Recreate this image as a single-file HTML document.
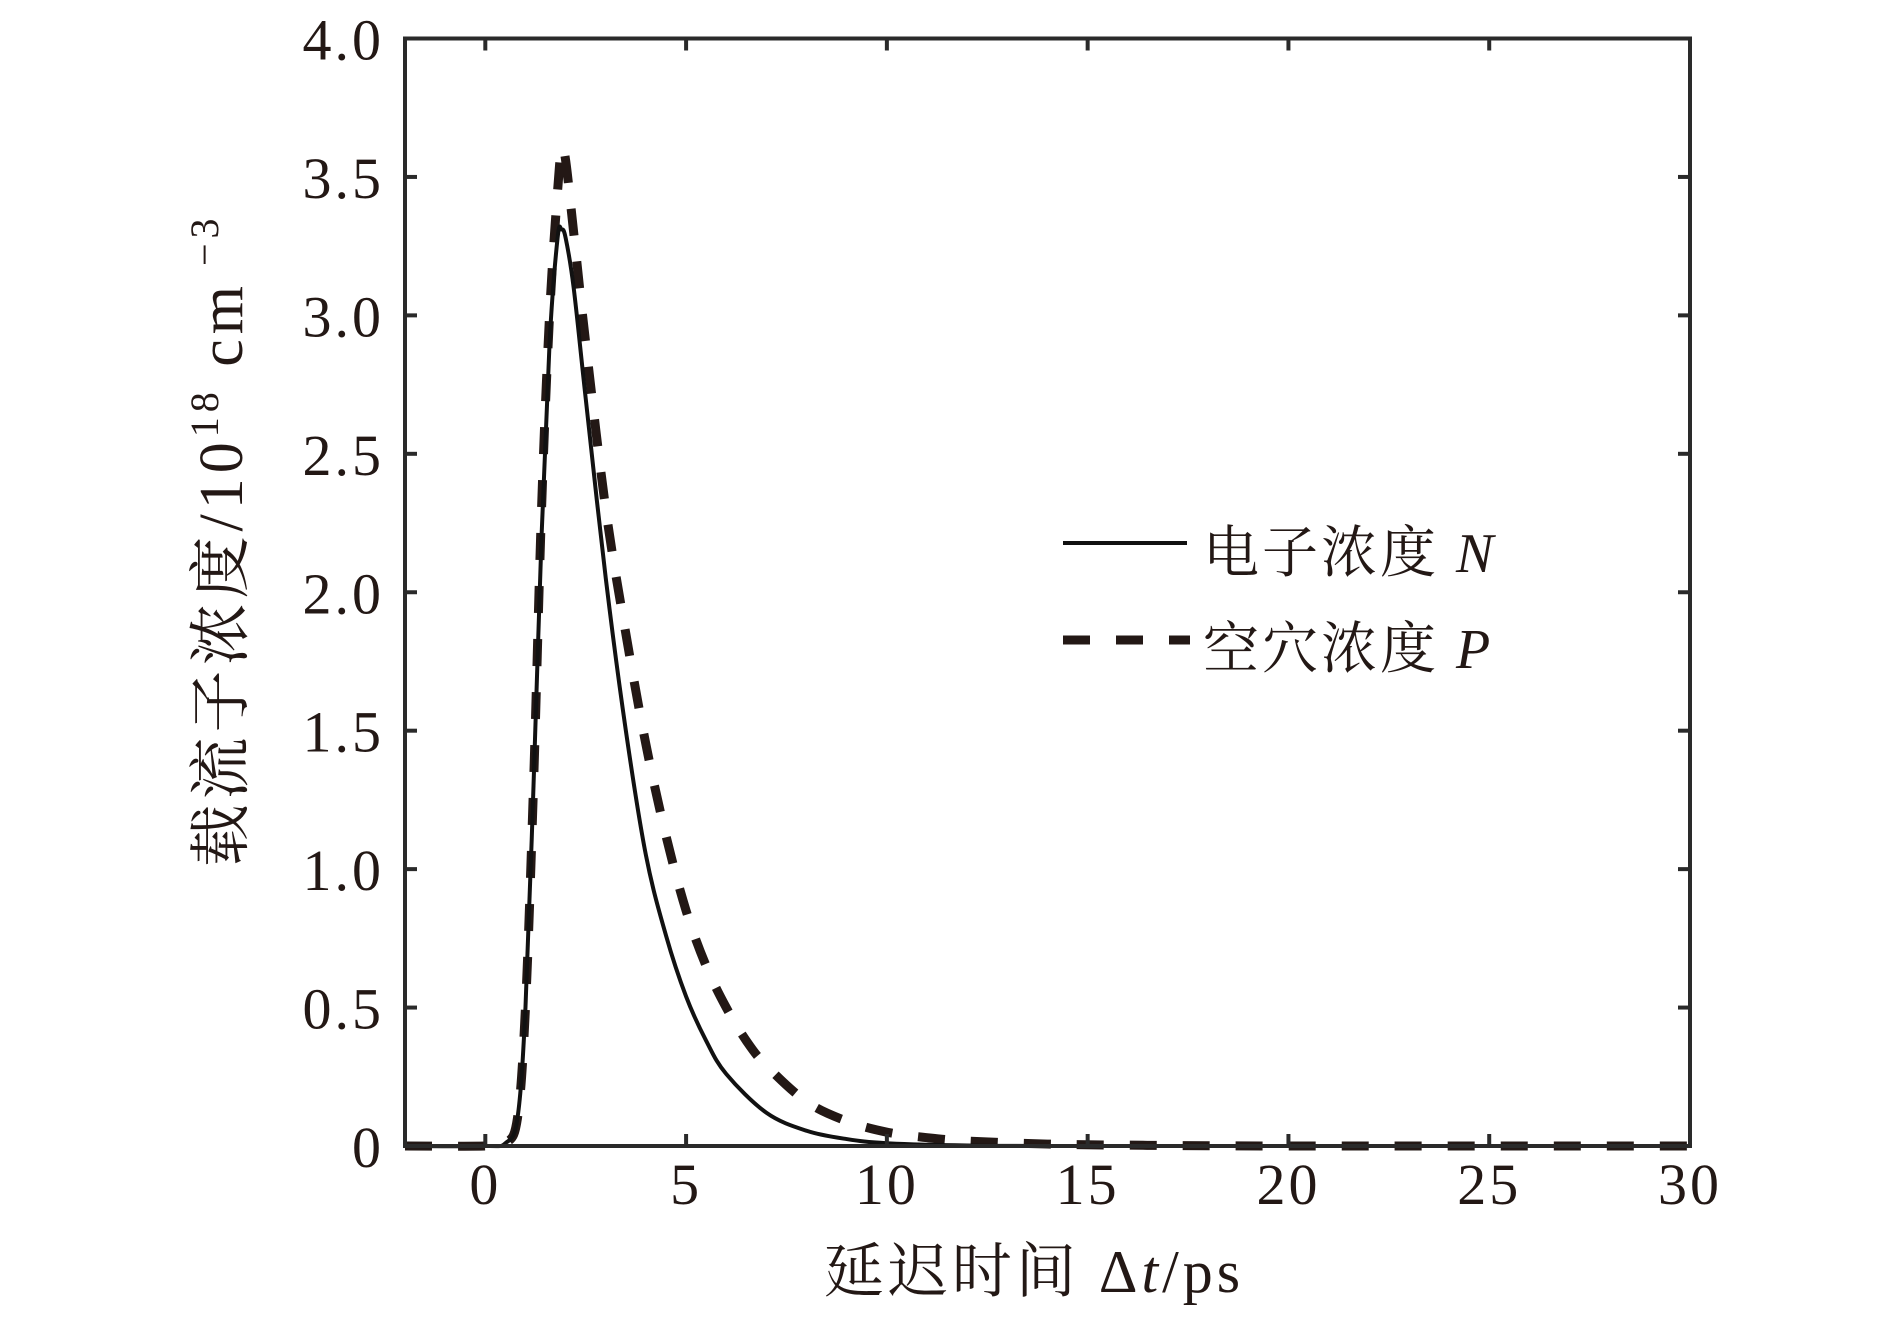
<!DOCTYPE html>
<html><head><meta charset="utf-8"><style>
html,body{margin:0;padding:0;background:#fff;}
svg{display:block;}
text{font-family:"Liberation Serif","Noto Serif CJK SC",serif;fill:#231815;}
</style></head><body>
<svg width="1890" height="1323" viewBox="0 0 1890 1323">
<g id="plot"></g>
<g id="axes"></g>
<g>
<line x1="1063" y1="543" x2="1187" y2="543" stroke="#111" stroke-width="4"/>
<text x="1203" y="572" font-size="56" letter-spacing="3">电子浓度 <tspan font-style="italic">N</tspan></text>
<line x1="1063" y1="640" x2="1190" y2="640" stroke="#231815" stroke-width="9" stroke-dasharray="27,26"/>
<text x="1203" y="668" font-size="56" letter-spacing="3">空穴浓度 <tspan font-style="italic">P</tspan></text>
</g>
<text x="1034" y="1292" font-size="60" letter-spacing="4" text-anchor="middle">延迟时间 Δ<tspan font-style="italic">t</tspan>/ps</text>
<text transform="translate(242,540) rotate(-90)" font-size="62" letter-spacing="5" text-anchor="middle">载流子浓度/10<tspan font-size="40" dy="-24">18</tspan><tspan dy="24"> cm</tspan><tspan font-size="40" dy="-24"> −3</tspan></text>
</svg>
<script>
const tN=[-2,0,0.5,0.8,1.0,1.2,1.4,1.6,1.8,1.9,2.0,2.2,2.5,3,3.5,4,4.5,5,5.5,6,7,8,9,10,12,15,30];
const electronN=[0,0,0.01,0.1,0.5,1.3,2.2,2.9,3.28,3.31,3.28,3.1,2.7,2.05,1.5,1.05,0.76,0.54,0.38,0.26,0.12,0.055,0.025,0.01,0.002,0,0];
const tP=[-2,0,0.5,0.8,1.0,1.2,1.4,1.6,1.8,1.9,2.0,2.2,2.5,3,3.5,4,4.5,5,5.5,6,6.5,7,8,9,10,11,12,14,16,20,30];
const holeP=[0,0,0.01,0.1,0.5,1.3,2.3,3.0,3.45,3.6,3.56,3.3,2.9,2.3,1.85,1.45,1.12,0.85,0.65,0.5,0.38,0.29,0.16,0.09,0.05,0.03,0.018,0.007,0.003,0,0];
const xTicks=[0,5,10,15,20,25,30];
const yTicks=[0,0.5,1.0,1.5,2.0,2.5,3.0,3.5,4.0];
const yTickLabels=["0","0.5","1.0","1.5","2.0","2.5","3.0","3.5","4.0"];
const X0=405,X1=1690,Y0=1146,Y1=38.5;
const xs=v=>X0+(v+2)/32*(X1-X0);
const ys=v=>Y0-v/4*(Y0-Y1);
const NS="http://www.w3.org/2000/svg";
const plot=document.getElementById('plot'),axes=document.getElementById('axes');
function mk(tag,attrs,parent){const e=document.createElementNS(NS,tag);for(const k in attrs)e.setAttribute(k,attrs[k]);parent.appendChild(e);return e;}
function smooth(t,v){const p=t.map((x,i)=>[xs(x),ys(v[i])]);let d='M'+p[0][0]+','+p[0][1];
for(let i=0;i<p.length-1;i++){const a=p[i-1]||p[i],b=p[i],c=p[i+1],e=p[i+2]||c;
d+=` C${b[0]+(c[0]-a[0])/6},${b[1]+(c[1]-a[1])/6} ${c[0]-(e[0]-b[0])/6},${c[1]-(e[1]-b[1])/6} ${c[0]},${c[1]}`;}return d;}
const pl=mk('path',{d:smooth(tP,holeP),fill:'none',stroke:'#231815','stroke-width':9,'stroke-dasharray':'27,26'},plot);


const nl=mk('path',{d:smooth(tN,electronN),fill:'none',stroke:'#111','stroke-width':4},plot);


const fr=mk('rect',{x:X0,y:Y1,width:X1-X0,height:Y0-Y1,fill:'none',stroke:'#2a2a2a','stroke-width':4},axes);


xTicks.forEach(v=>{const x=xs(v);
mk('line',{x1:x,y1:Y0,x2:x,y2:Y0-12,stroke:'#2a2a2a','stroke-width':4},axes);
mk('line',{x1:x,y1:Y1,x2:x,y2:Y1+12,stroke:'#2a2a2a','stroke-width':4},axes);
const t=mk('text',{x:x,y:1204,'font-size':58,'letter-spacing':3,'text-anchor':'middle'},axes);t.textContent=v;

});
yTicks.forEach((v,i)=>{const y=ys(v);
mk('line',{x1:X0,y1:y,x2:X0+12,y2:y,stroke:'#2a2a2a','stroke-width':4},axes);
mk('line',{x1:X1,y1:y,x2:X1-12,y2:y,stroke:'#2a2a2a','stroke-width':4},axes);
const t=mk('text',{x:384,y:y+21,'font-size':58,'letter-spacing':3,'text-anchor':'end'},axes);t.textContent=yTickLabels[i];

});
</script>
</body></html>
